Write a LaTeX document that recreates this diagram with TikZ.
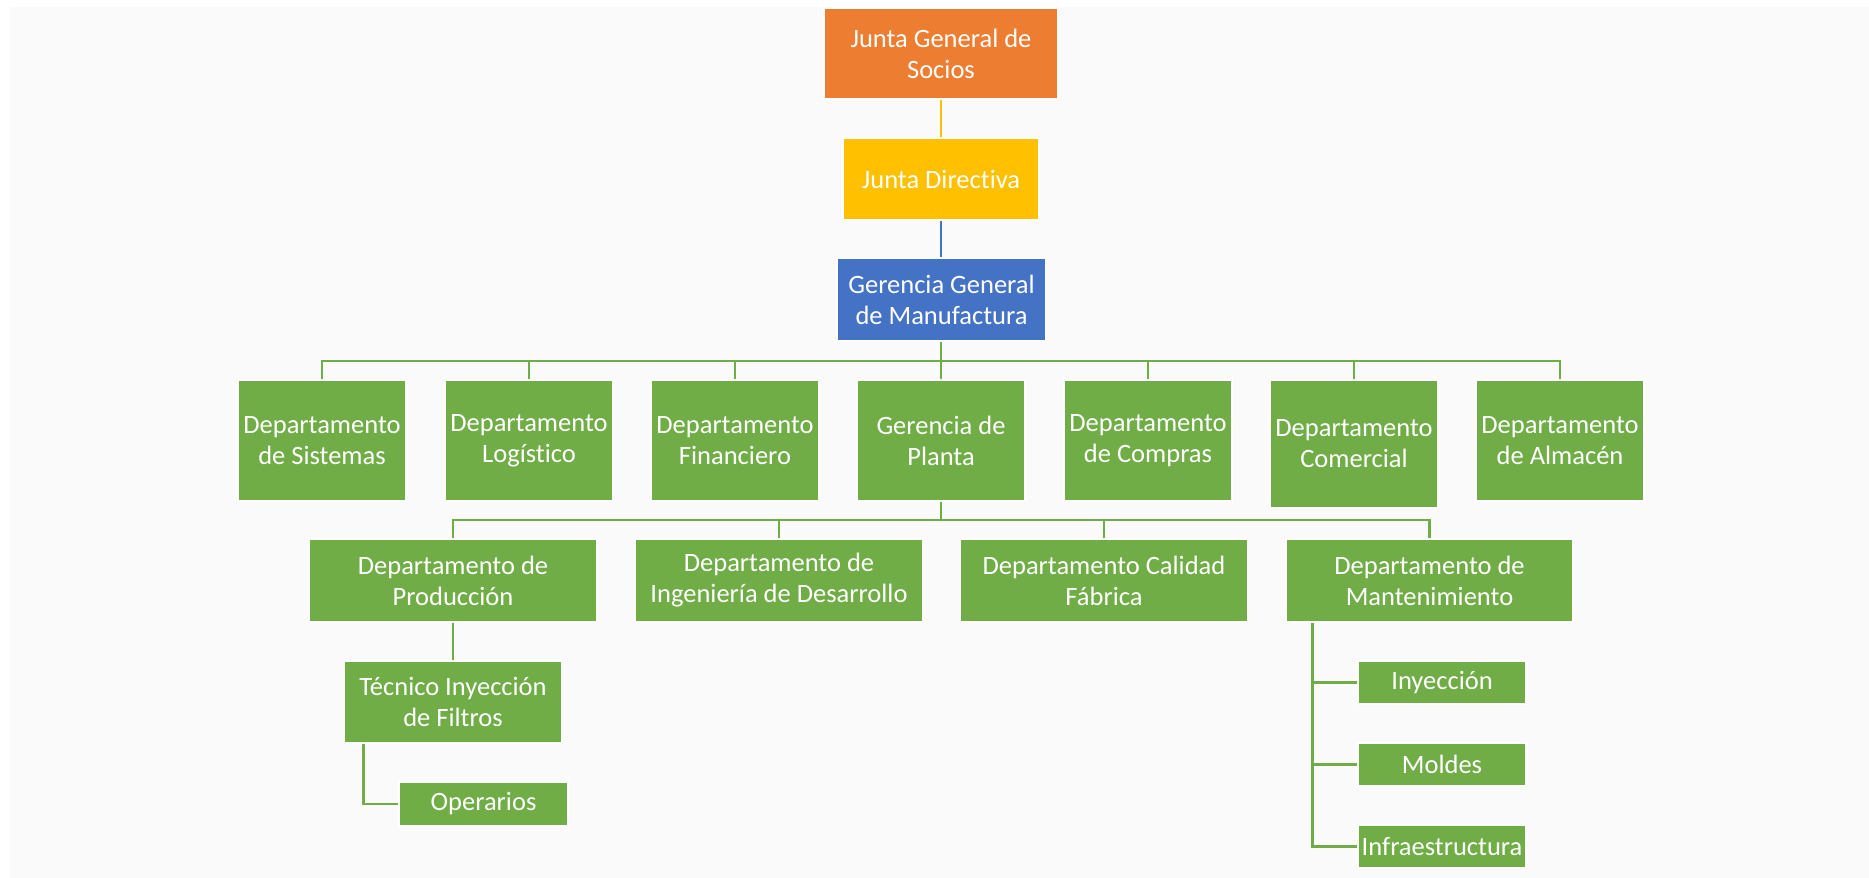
\documentclass[tikz,border=0pt]{standalone}
\usepackage{fontspec}
\setmainfont[Ligatures={NoCommon}]{Carlito}
\definecolor{bgGray}{HTML}{FAFAFA}
\definecolor{cOrange}{HTML}{ED7D31}
\definecolor{cYellow}{HTML}{FFC000}
\definecolor{cBlue}{HTML}{4472C4}
\definecolor{cGreen}{HTML}{70AD47}
\tikzset{
  box/.style={rectangle, draw=white, line width=1.5pt, text=white, align=center,
    inner sep=0pt, font=\fontsize{26.5}{31}\selectfont},
  gbox/.style={box, fill=cGreen},
  topbox/.style={gbox, minimum width=168pt, minimum height=121pt},
  midbox/.style={gbox, minimum width=287pt, minimum height=83pt},
  subbox/.style={gbox, minimum width=168pt, minimum height=43pt},
  gline/.style={draw=cGreen, line width=2.6pt},
  yline/.style={draw=cYellow, line width=2.6pt},
  bline/.style={draw=cBlue, line width=2.6pt}
}
\begin{document}
\begin{tikzpicture}[x=1pt, y=-1pt]
\useasboundingbox (0,0) rectangle (1869,878);
\fill[white] (0,0) rectangle (1869,878);
\fill[bgGray] (10,7) rectangle (1869,878);

% top levels
\node[box, fill=cOrange, minimum width=234pt, minimum height=91pt] (jgs) at (941,53.5) {Junta General de\\Socios};
\node[box, fill=cYellow, minimum width=196pt, minimum height=82pt] (jd) at (941,179) {Junta Directiva};
\node[box, fill=cBlue, minimum width=209pt, minimum height=83pt] (ggm) at (941.5,299.5) {Gerencia General\\de Manufactura};

% first row
\node[topbox] (dsis) at (322,440.5) {Departamento\\de Sistemas};
\node[topbox] (dlog) at (529,440.5) {Departamento\\Logístico};
\node[topbox] (dfin) at (735,440.5) {Departamento\\Financiero};
\node[topbox] (gpl) at (941,440.5) {Gerencia de\\Planta};
\node[topbox] (dcom) at (1148,440.5) {Departamento\\de Compras};
\node[topbox, minimum height=128pt] (dcme) at (1354,444) {Departamento\\Comercial};
\node[topbox] (dalm) at (1560,440.5) {Departamento\\de Almacén};

% second row
\node[midbox] (dprod) at (453,580.5) {Departamento de\\Producción};
\node[midbox] (ding) at (779,580.5) {Departamento de\\Ingeniería de Desarrollo};
\node[midbox] (dcal) at (1104,580.5) {Departamento Calidad\\Fábrica};
\node[midbox] (dman) at (1429.5,580.5) {Departamento de\\Mantenimiento};

% lower levels
\node[gbox, minimum width=217pt, minimum height=82pt] (tec) at (453,702) {Técnico Inyección\\de Filtros};
\node[gbox, minimum width=169pt, minimum height=44pt] (op) at (483.5,804) {Operarios};
\node[subbox] (iny) at (1442,682.5) {Inyección};
\node[subbox] (mol) at (1442,764.5) {Moldes};
\node[subbox] (inf) at (1442,846.5) {Infraestructura};

% connectors
\coordinate (bus1) at (941,361);
\coordinate (bus2) at (941,520);
\draw[yline] (jgs.south) -- (jd.north);
\draw[bline] (jd.south) -- (jd.south |- ggm.north);
\draw[gline] (ggm.south -| gpl.north) -- (gpl.north);
\foreach \n in {dsis,dlog,dfin,dcom,dcme,dalm}
  \draw[gline] (\n.north) |- (bus1);
\draw[gline] (gpl.south) -- (bus2);
\foreach \n in {dprod,ding,dcal,dman}
  \draw[gline] (\n.north) |- (bus2);
\draw[gline] (dprod.south) -- (tec.north);
\draw[gline] ([xshift=20pt]tec.south west) |- (op.west);
\foreach \n in {iny,mol,inf}
  \draw[gline] ([xshift=27pt]dman.south west) |- (\n.west);
\end{tikzpicture}
\end{document}
